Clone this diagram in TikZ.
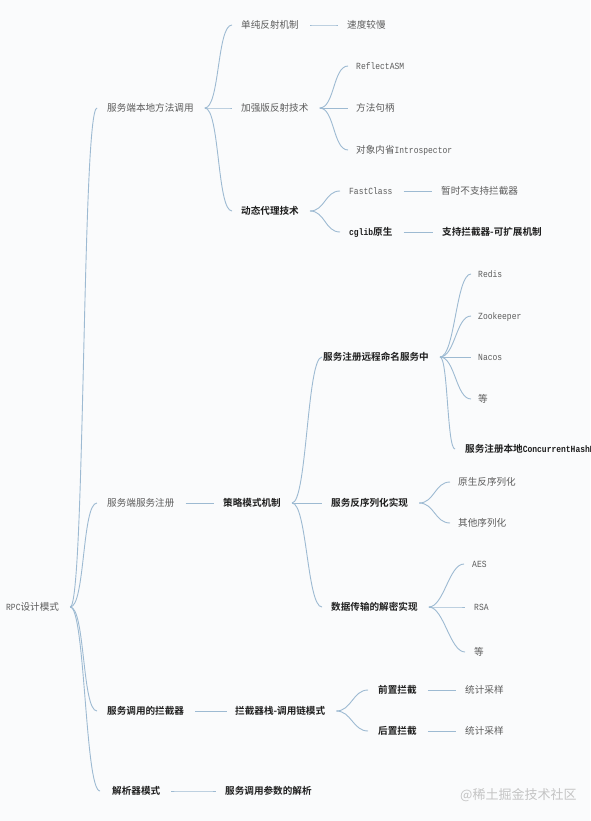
\documentclass[tikz,border=0pt]{standalone}
\usepackage{fontspec}
\setmainfont{Noto Sans CJK SC}[BoldFont={Noto Sans CJK SC Bold}]
\newfontfamily\monofam{Liberation Mono}[FakeStretch=0.85]
\definecolor{bgc}{HTML}{FAFBFC}
\definecolor{linkc}{HTML}{9DBAD2}
\definecolor{regc}{HTML}{5C5C5C}
\definecolor{boldc}{HTML}{1E1E1E}
\definecolor{wmc}{HTML}{C4C4C4}
\newcommand\mlat[1]{{\monofam\fontsize{9.4}{11}\selectfont #1}}
\newcommand\mmlink[4]{\draw[link] ([xshift=11pt]#1.east) .. controls +(#4,0) and +(-#4,0) .. ([xshift=-#3]#2.west);}
\tikzset{
  mm/.style={anchor=west, inner sep=0pt, text height=8.1pt, text depth=0.8pt},
  reg/.style={mm, text=regc, font=\fontsize{9.6}{11}\selectfont},
  bld/.style={mm, text=boldc, font=\fontsize{9.6}{11}\selectfont\bfseries},
  link/.style={draw=linkc, line width=0.9pt},
}
\begin{document}
\begin{tikzpicture}[x=1pt,y=-1pt]
\fill[bgc] (0,0) rectangle (590,821);
\useasboundingbox (0,0) rectangle (590,821);
\clip (0,0) rectangle (590,821);
% root and level 1
\node[reg] (root) at (6,607) {\mlat{RPC}设计模式};
\node[reg] (a) at (107,108) {服务端本地方法调用};
\node[reg] (b) at (107,503) {服务端服务注册};
\node[bld] (c) at (107,711) {服务调用的拦截器};
\node[bld] (d) at (112,791) {解析器模式};
% branch a
\node[reg] (a1) at (241,25) {单纯反射机制};
\node[reg] (a2) at (241,108) {加强版反射技术};
\node[bld] (a3) at (241,211) {动态代理技术};
\node[reg] (a1a) at (347,25) {速度较慢};
\node[reg] (a2a) at (356,66) {\mlat{ReflectASM}};
\node[reg] (a2b) at (356,108) {方法句柄};
\node[reg] (a2c) at (356,150) {对象内省\mlat{Introspector}};
\node[reg] (a3a) at (349,191) {\mlat{FastClass}};
\node[bld] (a3b) at (349,232) {\mlat{\bfseries cglib}原生};
\node[reg] (a3a1) at (441,191) {暂时不支持拦截器};
\node[bld] (a3b1) at (442,232) {支持拦截器-可扩展机制};
% branch b
\node[bld] (b1) at (223,503) {策略模式机制};
\node[bld] (b11) at (323,357) {服务注册远程命名服务中};
\node[bld] (b12) at (331,503) {服务反序列化实现};
\node[bld] (b13) at (331,607) {数据传输的解密实现};
\node[reg] (b11a) at (478,274) {\mlat{Redis}};
\node[reg] (b11b) at (478,316) {\mlat{Zookeeper}};
\node[reg] (b11c) at (478,357) {\mlat{Nacos}};
\node[reg] (b11d) at (478,399) {等};
\node[bld] (b11e) at (465,449) {服务注册本地\mlat{ConcurrentHashMap}};
\node[reg] (b12a) at (458,482) {原生反序列化};
\node[reg] (b12b) at (458,523) {其他序列化};
\node[reg] (b13a) at (472,564) {\mlat{AES}};
\node[reg] (b13b) at (474,607) {\mlat{RSA}};
\node[reg] (b13c) at (474,652) {等};
% branch c
\node[bld] (c1) at (235,711) {拦截器栈-调用链模式};
\node[bld] (c11) at (378,690) {前置拦截};
\node[bld] (c12) at (378,731) {后置拦截};
\node[reg] (c11a) at (465,690) {统计采样};
\node[reg] (c12a) at (465,731) {统计采样};
% branch d
\node[bld] (d1) at (225,791) {服务调用参数的解析};
% watermark
\node[anchor=west, inner sep=0pt, text=wmc, font=\fontsize{13}{15}\selectfont] (wm) at (460,795) {@稀土掘金技术社区};
% connectors
\mmlink{root}{a}{10pt}{15pt}
\mmlink{root}{b}{10pt}{15pt}
\mmlink{root}{c}{10pt}{15pt}
\mmlink{root}{d}{12pt}{15pt}
\mmlink{a}{a1}{9pt}{15pt}
\mmlink{a}{a2}{9pt}{15pt}
\mmlink{a}{a3}{9pt}{15pt}
\mmlink{a1}{a1a}{9pt}{15pt}
\mmlink{a2}{a2a}{8pt}{15pt}
\mmlink{a2}{a2b}{8pt}{15pt}
\mmlink{a2}{a2c}{8pt}{15pt}
\mmlink{a3}{a3a}{9pt}{15pt}
\mmlink{a3}{a3b}{9pt}{15pt}
\mmlink{a3a}{a3a1}{9pt}{15pt}
\mmlink{a3b}{a3b1}{9pt}{15pt}
\mmlink{b}{b1}{9pt}{15pt}
\mmlink{b1}{b11}{1pt}{15pt}
\mmlink{b1}{b12}{9pt}{15pt}
\mmlink{b1}{b13}{9pt}{15pt}
\mmlink{b11}{b11a}{7pt}{15pt}
\mmlink{b11}{b11b}{7pt}{15pt}
\mmlink{b11}{b11c}{7pt}{15pt}
\mmlink{b11}{b11d}{7pt}{15pt}
\mmlink{b11}{b11e}{10pt}{8pt}
\mmlink{b12}{b12a}{8pt}{15pt}
\mmlink{b12}{b12b}{8pt}{15pt}
\mmlink{b13}{b13a}{8pt}{15pt}
\mmlink{b13}{b13b}{9pt}{15pt}
\mmlink{b13}{b13c}{9pt}{15pt}
\mmlink{c}{c1}{8pt}{15pt}
\mmlink{c1}{c11}{10pt}{15pt}
\mmlink{c1}{c12}{10pt}{15pt}
\mmlink{c11}{c11a}{9pt}{15pt}
\mmlink{c12}{c12a}{9pt}{15pt}
\mmlink{d}{d1}{9pt}{15pt}
\end{tikzpicture}
\end{document}
